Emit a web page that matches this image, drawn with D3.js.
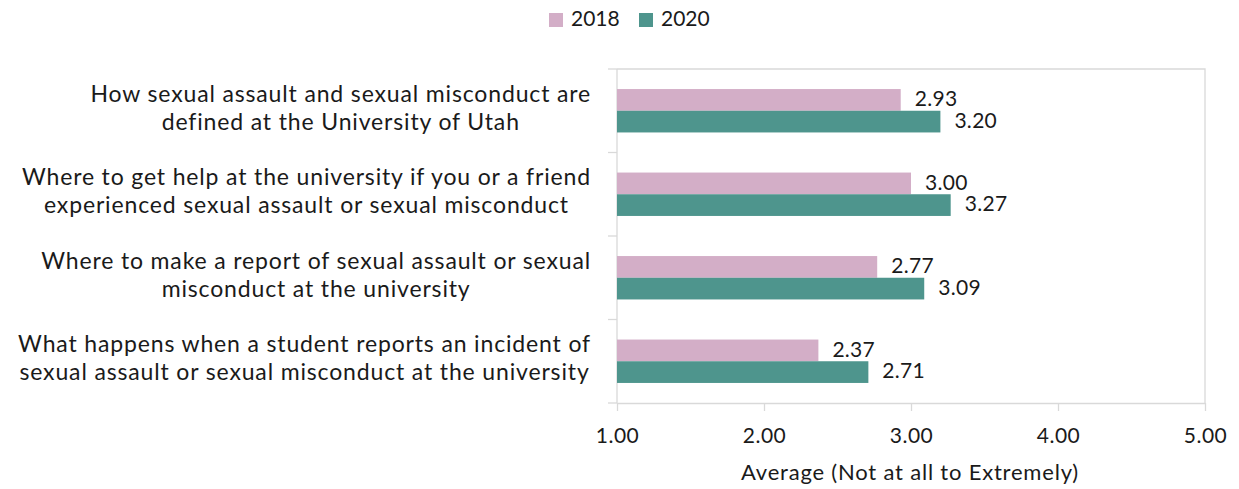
<!DOCTYPE html>
<html>
<head>
<meta charset="utf-8">
<script src="https://cdn.jsdelivr.net/npm/d3@7"></script>
<style>
  html, body { margin: 0; padding: 0; background: #fff; }
  svg text { font-family: Lato, "Open Sans", sans-serif; fill: #1a1a1a; }
</style>
</head>
<body>
<svg id="chart" width="1239" height="489"></svg>
<script>
// Survey items (each label split into its two display lines)
const categories = [
  ["How sexual assault and sexual misconduct are", "defined at the University of Utah"],
  ["Where to get help at the university if you or a friend", "experienced sexual assault or sexual misconduct"],
  ["Where to make a report of sexual assault or sexual", "misconduct at the university"],
  ["What happens when a student reports an incident of", "sexual assault or sexual misconduct at the university"]
];
const seriesNames = ["2018", "2020"];
const values2018 = [2.93, 3.00, 2.77, 2.37];
const values2020 = [3.20, 3.27, 3.09, 2.71];
const xTicks = [1, 2, 3, 4, 5];
const axisTitle = "Average (Not at all to Extremely)";

const colors = ["#D3AEC7", "#4E958D"];
const svg = d3.select("#chart");

const plot = { left: 617, right: 1205, top: 69, bottom: 403 };

const x = d3.scaleLinear().domain([1, 5]).range([plot.left, plot.right]);
const y = d3.scaleBand().domain(d3.range(categories.length)).range([plot.top, plot.bottom]);
const barH = 21.7;

// plot-area frame (top and right edges)
svg.append("path")
  .attr("d", `M${plot.left},${plot.top}H${plot.right}V${plot.bottom}`)
  .attr("fill", "none").attr("stroke", "#D9D9D9").attr("stroke-width", 1.3);

// category axis with outward ticks at band boundaries
svg.append("line")
  .attr("x1", plot.left).attr("x2", plot.left)
  .attr("y1", plot.top).attr("y2", plot.bottom)
  .attr("stroke", "#D9D9D9").attr("stroke-width", 1.3);
const boundaries = d3.range(categories.length + 1).map(i => i < categories.length ? y(i) : plot.bottom);
svg.selectAll(".ctick").data(boundaries).join("line")
  .attr("x1", plot.left - 9).attr("x2", plot.left)
  .attr("y1", d => d).attr("y2", d => d)
  .attr("stroke", "#D9D9D9").attr("stroke-width", 1.3);

// value axis
const xAxis = d3.axisBottom(x).tickValues(xTicks).tickFormat(d3.format(".2f"))
  .tickSizeInner(8).tickSizeOuter(0).tickPadding(17);
const gx = svg.append("g").attr("transform", `translate(0,${plot.bottom})`).call(xAxis);
gx.select(".domain").attr("stroke", "#D9D9D9").attr("stroke-width", 1.3);
gx.selectAll(".tick line").attr("stroke", "#D9D9D9").attr("stroke-width", 1.3);
gx.selectAll(".tick text").attr("font-size", 21).attr("fill", "#1a1a1a")
  .style("font-family", "Lato, sans-serif").style("letter-spacing", "0.5px");

svg.append("text")
  .attr("x", 910).attr("y", 480)
  .attr("text-anchor", "middle").attr("font-size", 22)
  .style("letter-spacing", "0.8px")
  .text(axisTitle);

// bars
const series = [values2018, values2020];
series.forEach((vals, s) => {
  svg.selectAll(".bar" + s).data(vals).join("rect")
    .attr("x", x(1))
    .attr("y", (d, i) => y(i) + y.bandwidth() / 2 - barH + s * barH)
    .attr("width", d => x(d) - x(1))
    .attr("height", barH)
    .attr("fill", colors[s]);
  svg.selectAll(".lbl" + s).data(vals).join("text")
    .attr("x", d => x(d) + 14)
    .attr("y", (d, i) => y(i) + y.bandwidth() / 2 - barH + s * barH + barH / 2 + 1)
    .attr("dominant-baseline", "middle")
    .attr("font-size", 21)
    .style("letter-spacing", "0.3px")
    .text(d => d.toFixed(2));
});

// category labels: block right-aligned, lines centred within the block
const labelRight = 591;
categories.forEach((lines, i) => {
  const g = svg.append("g");
  const texts = lines.map((t, k) => g.append("text")
    .attr("font-size", 23)
    .style("letter-spacing", "0.85px")
    .attr("text-anchor", "middle")
    .attr("dominant-baseline", "middle")
    .attr("y", y(i) + y.bandwidth() / 2 + (k - 0.5) * 28 - 1)
    .text(t));
  const maxW = d3.max(texts, t => t.node().getComputedTextLength());
  texts.forEach(t => t.attr("x", labelRight - maxW / 2));
});

// legend
const legend = svg.append("g");
const legendX = [549, 639];
seriesNames.forEach((name, s) => {
  legend.append("rect").attr("x", legendX[s]).attr("y", 13)
    .attr("width", 14).attr("height", 14).attr("fill", colors[s]);
  legend.append("text").attr("x", legendX[s] + 22).attr("y", 21)
    .attr("dominant-baseline", "middle").attr("font-size", 21)
    .text(name);
});
</script>
</body>
</html>
